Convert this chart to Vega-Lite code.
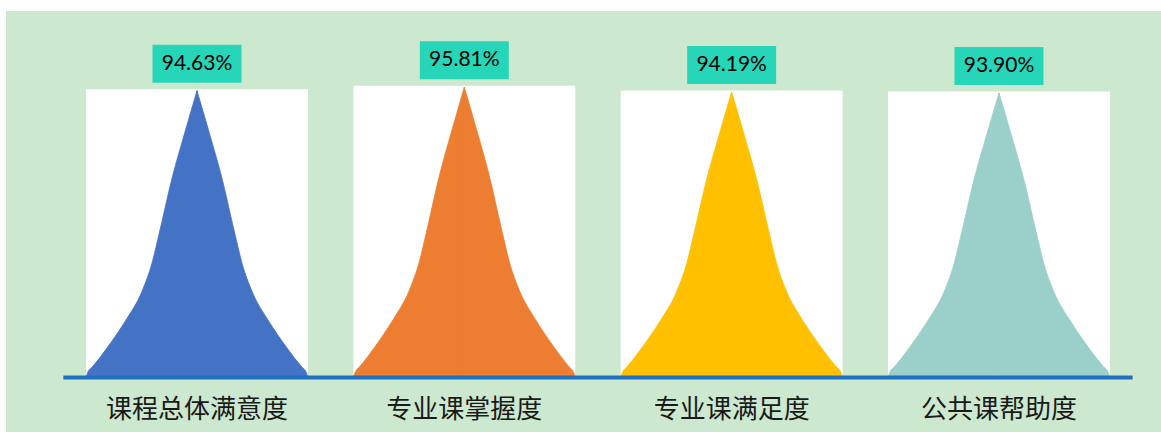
{
  "$schema": "https://vega.github.io/schema/vega-lite/v6.json",
  "width": 1161,
  "height": 432,
  "autosize": {"type": "fit", "contains": "padding"},
  "padding": {"left": 6, "top": 11, "right": 0, "bottom": 0},
  "background": "#ffffff",
  "config": {"view": {"fill": "#cce8cf", "stroke": null}},
  "datasets": {
    "summary": [
      {"name": "课程总体满意度", "i": 0, "value": 0.9463},
      {"name": "专业课掌握度", "i": 1, "value": 0.9581},
      {"name": "专业课满足度", "i": 2, "value": 0.9419},
      {"name": "公共课帮助度", "i": 3, "value": 0.939}
    ],
    "curves": [
      {"name": "课程总体满意度", "s": "L", "x": -0.415, "y": 0},
      {"name": "课程总体满意度", "s": "L", "x": -0.41, "y": 0.0142},
      {"name": "课程总体满意度", "s": "L", "x": -0.389, "y": 0.0379},
      {"name": "课程总体满意度", "s": "L", "x": -0.363, "y": 0.0662},
      {"name": "课程总体满意度", "s": "L", "x": -0.339, "y": 0.0946},
      {"name": "课程总体满意度", "s": "L", "x": -0.301, "y": 0.1419},
      {"name": "课程总体满意度", "s": "L", "x": -0.266, "y": 0.1893},
      {"name": "课程总体满意度", "s": "L", "x": -0.206, "y": 0.2839},
      {"name": "课程总体满意度", "s": "L", "x": -0.168, "y": 0.3785},
      {"name": "课程总体满意度", "s": "L", "x": -0.142, "y": 0.4732},
      {"name": "课程总体满意度", "s": "L", "x": -0.092, "y": 0.6624},
      {"name": "课程总体满意度", "s": "L", "x": -0.047, "y": 0.8044},
      {"name": "课程总体满意度", "s": "L", "x": 0, "y": 0.9463},
      {"name": "课程总体满意度", "s": "R", "x": 0, "y": 0.9463},
      {"name": "课程总体满意度", "s": "R", "x": 0.047, "y": 0.8044},
      {"name": "课程总体满意度", "s": "R", "x": 0.092, "y": 0.6624},
      {"name": "课程总体满意度", "s": "R", "x": 0.142, "y": 0.4732},
      {"name": "课程总体满意度", "s": "R", "x": 0.168, "y": 0.3785},
      {"name": "课程总体满意度", "s": "R", "x": 0.206, "y": 0.2839},
      {"name": "课程总体满意度", "s": "R", "x": 0.266, "y": 0.1893},
      {"name": "课程总体满意度", "s": "R", "x": 0.301, "y": 0.1419},
      {"name": "课程总体满意度", "s": "R", "x": 0.339, "y": 0.0946},
      {"name": "课程总体满意度", "s": "R", "x": 0.363, "y": 0.0662},
      {"name": "课程总体满意度", "s": "R", "x": 0.389, "y": 0.0379},
      {"name": "课程总体满意度", "s": "R", "x": 0.41, "y": 0.0142},
      {"name": "课程总体满意度", "s": "R", "x": 0.415, "y": 0},

      {"name": "专业课掌握度", "s": "L", "x": 0.585, "y": 0},
      {"name": "专业课掌握度", "s": "L", "x": 0.59, "y": 0.0144},
      {"name": "专业课掌握度", "s": "L", "x": 0.611, "y": 0.0383},
      {"name": "专业课掌握度", "s": "L", "x": 0.637, "y": 0.0671},
      {"name": "专业课掌握度", "s": "L", "x": 0.661, "y": 0.0958},
      {"name": "专业课掌握度", "s": "L", "x": 0.699, "y": 0.1437},
      {"name": "专业课掌握度", "s": "L", "x": 0.734, "y": 0.1916},
      {"name": "专业课掌握度", "s": "L", "x": 0.794, "y": 0.2874},
      {"name": "专业课掌握度", "s": "L", "x": 0.832, "y": 0.3832},
      {"name": "专业课掌握度", "s": "L", "x": 0.858, "y": 0.4791},
      {"name": "专业课掌握度", "s": "L", "x": 0.908, "y": 0.6707},
      {"name": "专业课掌握度", "s": "L", "x": 0.953, "y": 0.8144},
      {"name": "专业课掌握度", "s": "L", "x": 1, "y": 0.9581},
      {"name": "专业课掌握度", "s": "R", "x": 1, "y": 0.9581},
      {"name": "专业课掌握度", "s": "R", "x": 1.047, "y": 0.8144},
      {"name": "专业课掌握度", "s": "R", "x": 1.092, "y": 0.6707},
      {"name": "专业课掌握度", "s": "R", "x": 1.142, "y": 0.4791},
      {"name": "专业课掌握度", "s": "R", "x": 1.168, "y": 0.3832},
      {"name": "专业课掌握度", "s": "R", "x": 1.206, "y": 0.2874},
      {"name": "专业课掌握度", "s": "R", "x": 1.266, "y": 0.1916},
      {"name": "专业课掌握度", "s": "R", "x": 1.301, "y": 0.1437},
      {"name": "专业课掌握度", "s": "R", "x": 1.339, "y": 0.0958},
      {"name": "专业课掌握度", "s": "R", "x": 1.363, "y": 0.0671},
      {"name": "专业课掌握度", "s": "R", "x": 1.389, "y": 0.0383},
      {"name": "专业课掌握度", "s": "R", "x": 1.41, "y": 0.0144},
      {"name": "专业课掌握度", "s": "R", "x": 1.415, "y": 0},

      {"name": "专业课满足度", "s": "L", "x": 1.585, "y": 0},
      {"name": "专业课满足度", "s": "L", "x": 1.59, "y": 0.0141},
      {"name": "专业课满足度", "s": "L", "x": 1.611, "y": 0.0377},
      {"name": "专业课满足度", "s": "L", "x": 1.637, "y": 0.0659},
      {"name": "专业课满足度", "s": "L", "x": 1.661, "y": 0.0942},
      {"name": "专业课满足度", "s": "L", "x": 1.699, "y": 0.1413},
      {"name": "专业课满足度", "s": "L", "x": 1.734, "y": 0.1884},
      {"name": "专业课满足度", "s": "L", "x": 1.794, "y": 0.2826},
      {"name": "专业课满足度", "s": "L", "x": 1.832, "y": 0.3768},
      {"name": "专业课满足度", "s": "L", "x": 1.858, "y": 0.471},
      {"name": "专业课满足度", "s": "L", "x": 1.908, "y": 0.6593},
      {"name": "专业课满足度", "s": "L", "x": 1.953, "y": 0.8006},
      {"name": "专业课满足度", "s": "L", "x": 2, "y": 0.9419},
      {"name": "专业课满足度", "s": "R", "x": 2, "y": 0.9419},
      {"name": "专业课满足度", "s": "R", "x": 2.047, "y": 0.8006},
      {"name": "专业课满足度", "s": "R", "x": 2.092, "y": 0.6593},
      {"name": "专业课满足度", "s": "R", "x": 2.142, "y": 0.471},
      {"name": "专业课满足度", "s": "R", "x": 2.168, "y": 0.3768},
      {"name": "专业课满足度", "s": "R", "x": 2.206, "y": 0.2826},
      {"name": "专业课满足度", "s": "R", "x": 2.266, "y": 0.1884},
      {"name": "专业课满足度", "s": "R", "x": 2.301, "y": 0.1413},
      {"name": "专业课满足度", "s": "R", "x": 2.339, "y": 0.0942},
      {"name": "专业课满足度", "s": "R", "x": 2.363, "y": 0.0659},
      {"name": "专业课满足度", "s": "R", "x": 2.389, "y": 0.0377},
      {"name": "专业课满足度", "s": "R", "x": 2.41, "y": 0.0141},
      {"name": "专业课满足度", "s": "R", "x": 2.415, "y": 0},

      {"name": "公共课帮助度", "s": "L", "x": 2.585, "y": 0},
      {"name": "公共课帮助度", "s": "L", "x": 2.59, "y": 0.0141},
      {"name": "公共课帮助度", "s": "L", "x": 2.611, "y": 0.0376},
      {"name": "公共课帮助度", "s": "L", "x": 2.637, "y": 0.0657},
      {"name": "公共课帮助度", "s": "L", "x": 2.661, "y": 0.0939},
      {"name": "公共课帮助度", "s": "L", "x": 2.699, "y": 0.1409},
      {"name": "公共课帮助度", "s": "L", "x": 2.734, "y": 0.1878},
      {"name": "公共课帮助度", "s": "L", "x": 2.794, "y": 0.2817},
      {"name": "公共课帮助度", "s": "L", "x": 2.832, "y": 0.3756},
      {"name": "公共课帮助度", "s": "L", "x": 2.858, "y": 0.4695},
      {"name": "公共课帮助度", "s": "L", "x": 2.908, "y": 0.6573},
      {"name": "公共课帮助度", "s": "L", "x": 2.953, "y": 0.7982},
      {"name": "公共课帮助度", "s": "L", "x": 3, "y": 0.939},
      {"name": "公共课帮助度", "s": "R", "x": 3, "y": 0.939},
      {"name": "公共课帮助度", "s": "R", "x": 3.047, "y": 0.7982},
      {"name": "公共课帮助度", "s": "R", "x": 3.092, "y": 0.6573},
      {"name": "公共课帮助度", "s": "R", "x": 3.142, "y": 0.4695},
      {"name": "公共课帮助度", "s": "R", "x": 3.168, "y": 0.3756},
      {"name": "公共课帮助度", "s": "R", "x": 3.206, "y": 0.2817},
      {"name": "公共课帮助度", "s": "R", "x": 3.266, "y": 0.1878},
      {"name": "公共课帮助度", "s": "R", "x": 3.301, "y": 0.1409},
      {"name": "公共课帮助度", "s": "R", "x": 3.339, "y": 0.0939},
      {"name": "公共课帮助度", "s": "R", "x": 3.363, "y": 0.0657},
      {"name": "公共课帮助度", "s": "R", "x": 3.389, "y": 0.0376},
      {"name": "公共课帮助度", "s": "R", "x": 3.41, "y": 0.0141},
      {"name": "公共课帮助度", "s": "R", "x": 3.415, "y": 0}
    ]
  },
  "layer": [
    {
      "data": {"name": "curves"},
      "mark": {"type": "rect", "color": "#ffffff", "yOffset": -1.5},
      "encoding": {
        "x": {"aggregate": "min", "field": "x", "type": "quantitative", "scale": {"domain": [-0.7145, 3.6061], "nice": false, "zero": false}, "axis": null},
        "x2": {"aggregate": "max", "field": "x"},
        "y": {"aggregate": "max", "field": "y", "type": "quantitative", "scale": {"domain": [-0.1799, 1.2096], "nice": false, "zero": false}, "axis": null},
        "y2": {"datum": 0},
        "detail": {"field": "name", "type": "nominal"}
      }
    },
    {
      "data": {"name": "curves"},
      "mark": {"type": "area", "interpolate": "monotone", "opacity": 1, "strokeWidth": 0.8, "strokeJoin": "miter"},
      "encoding": {
        "x": {"field": "x", "type": "quantitative"},
        "y": {"field": "y", "type": "quantitative"},
        "y2": {"datum": 0},
        "detail": {"field": "s", "type": "nominal"},
        "color": {
          "field": "name",
          "type": "nominal",
          "scale": {
            "domain": ["课程总体满意度", "专业课掌握度", "专业课满足度", "公共课帮助度"],
            "range": ["#4472c4", "#ed7d31", "#ffc000", "#9bcfc9"]
          },
          "legend": null
        },
        "stroke": {
          "field": "name",
          "type": "nominal",
          "scale": {
            "domain": ["课程总体满意度", "专业课掌握度", "专业课满足度", "公共课帮助度"],
            "range": ["#4472c4", "#ed7d31", "#ffc000", "#9bcfc9"]
          },
          "legend": null
        }
      }
    },
    {
      "data": {"values": [{}]},
      "mark": {"type": "rule", "color": "#1f70c1", "strokeWidth": 4},
      "encoding": {
        "x": {"datum": -0.5, "type": "quantitative"},
        "x2": {"datum": 3.5},
        "y": {"datum": 0, "type": "quantitative"}
      }
    },
    {
      "data": {"name": "summary"},
      "mark": {
        "type": "point",
        "shape": "M-1.171,-0.5L1.171,-0.5L1.171,0.5L-1.171,0.5Z",
        "size": 5776,
        "filled": true,
        "opacity": 1,
        "color": "#27d6b9",
        "strokeWidth": 0,
        "yOffset": -27
      },
      "encoding": {
        "x": {"field": "i", "type": "quantitative"},
        "y": {"field": "value", "type": "quantitative"}
      }
    },
    {
      "data": {"name": "summary"},
      "mark": {
        "type": "text",
        "font": "Lato",
        "fontSize": 21,
        "color": "#000000",
        "baseline": "middle",
        "align": "center",
        "yOffset": -27
      },
      "encoding": {
        "x": {"field": "i", "type": "quantitative"},
        "y": {"field": "value", "type": "quantitative"},
        "text": {"field": "value", "type": "quantitative", "format": ".2%"}
      }
    },
    {
      "data": {"name": "summary"},
      "mark": {
        "type": "text",
        "font": "Noto Sans CJK SC",
        "fontSize": 26,
        "color": "#1a1a1a",
        "baseline": "middle",
        "align": "center",
        "yOffset": 33
      },
      "encoding": {
        "x": {"field": "i", "type": "quantitative"},
        "y": {"datum": 0, "type": "quantitative"},
        "text": {"field": "name", "type": "nominal"}
      }
    }
  ]
}
